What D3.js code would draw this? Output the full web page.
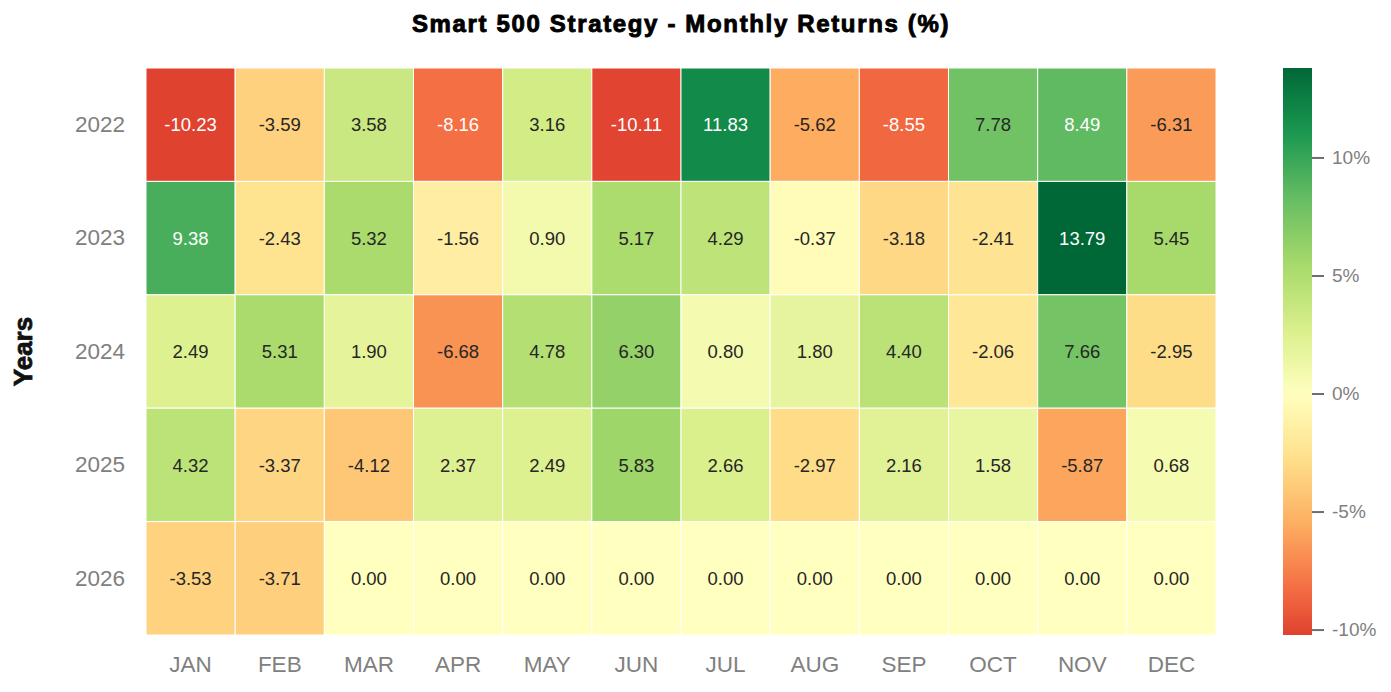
<!DOCTYPE html>
<html>
<head>
<meta charset="utf-8">
<script src="https://cdnjs.cloudflare.com/ajax/libs/d3/7.8.5/d3.min.js"></script>
<style>
  body { margin: 0; background: #fff; }
  text { font-family: "Liberation Sans", Arial, sans-serif; }
</style>
</head>
<body>
<script>
// chart data
var years = ["2022", "2023", "2024", "2025", "2026"];
var months = ["JAN", "FEB", "MAR", "APR", "MAY", "JUN", "JUL", "AUG", "SEP", "OCT", "NOV", "DEC"];
var returns2022 = [-10.23, -3.59, 3.58, -8.16, 3.16, -10.11, 11.83, -5.62, -8.55, 7.78, 8.49, -6.31];
var returns2023 = [9.38, -2.43, 5.32, -1.56, 0.90, 5.17, 4.29, -0.37, -3.18, -2.41, 13.79, 5.45];
var returns2024 = [2.49, 5.31, 1.90, -6.68, 4.78, 6.30, 0.80, 1.80, 4.40, -2.06, 7.66, -2.95];
var returns2025 = [4.32, -3.37, -4.12, 2.37, 2.49, 5.83, 2.66, -2.97, 2.16, 1.58, -5.87, 0.68];
var returns2026 = [-3.53, -3.71, 0.00, 0.00, 0.00, 0.00, 0.00, 0.00, 0.00, 0.00, 0.00, 0.00];
var colorTicks = [10, 5, 0, -5, -10];

var rows = [returns2022, returns2023, returns2024, returns2025, returns2026];
var cells = [];
rows.forEach(function(r, i) {
  r.forEach(function(v, j) { cells.push({year: years[i], month: months[j], value: v}); });
});

var width = 1391, height = 692;
var margin = {top: 68, left: 146, right: 175, bottom: 57};
var innerW = width - margin.left - margin.right,
    innerH = height - margin.top - margin.bottom;

var svg = d3.select("body").append("svg")
    .attr("width", width)
    .attr("height", height);

var x = d3.scaleBand().domain(months).range([margin.left, margin.left + innerW]);
var y = d3.scaleBand().domain(years).range([margin.top, margin.top + innerH]);

// seaborn-style centred colormap (RdYlGn, center 0)
var vmin = d3.min(cells, function(d) { return d.value; }),
    vmax = d3.max(cells, function(d) { return d.value; });
var vrange = Math.max(vmax, -vmin);
var scheme = d3.schemeRdYlGn[11];
var cmap = d3.scaleLinear()
    .domain(d3.range(11).map(function(i) { return i / 10; }))
    .range(scheme)
    .interpolate(d3.interpolateRgb);
var norm = d3.scaleLinear().domain([-vrange, vrange]).range([0, 1]).clamp(true);
function color(v) { return cmap(norm(v)); }

function textColor(c) {
  var rgb = d3.rgb(c);
  var lum = [rgb.r, rgb.g, rgb.b].map(function(u) {
    u = u / 255;
    return u <= 0.03928 ? u / 12.92 : Math.pow((u + 0.055) / 1.055, 2.4);
  });
  var l = 0.2126 * lum[0] + 0.7152 * lum[1] + 0.0722 * lum[2];
  return l > 0.408 ? "#262626" : "#ffffff";
}

// cells
svg.append("g").selectAll("rect")
  .data(cells)
  .enter().append("rect")
    .attr("x", function(d) { return x(d.month); })
    .attr("y", function(d) { return y(d.year); })
    .attr("width", x.bandwidth())
    .attr("height", y.bandwidth())
    .attr("fill", function(d) { return color(d.value); })
    .attr("stroke", "#ffffff")
    .attr("stroke-width", 1);

// annotations
svg.append("g").selectAll("text")
  .data(cells)
  .enter().append("text")
    .attr("x", function(d) { return x(d.month) + x.bandwidth() / 2; })
    .attr("y", function(d) { return y(d.year) + y.bandwidth() / 2; })
    .attr("dy", "0.36em")
    .attr("text-anchor", "middle")
    .style("font-size", "18.5px")
    .attr("fill", function(d) { return textColor(color(d.value)); })
    .text(function(d) { return d.value.toFixed(2); });

// axes
var xAxis = svg.append("g")
    .attr("transform", "translate(0," + (margin.top + innerH) + ")")
    .call(d3.axisBottom(x).tickSize(0).tickPadding(21));
var yAxis = svg.append("g")
    .attr("transform", "translate(" + margin.left + ",0)")
    .call(d3.axisLeft(y).tickSize(0).tickPadding(21));
[xAxis, yAxis].forEach(function(a) {
  a.select(".domain").remove();
  a.selectAll("text")
    .style("font-size", "22.5px")
    .style("font-family", "'Liberation Sans', Arial, sans-serif")
    .attr("fill", "#808080");
});

// y label
svg.append("text")
    .attr("transform", "translate(32," + (margin.top + innerH / 2) + ") rotate(-90)")
    .attr("text-anchor", "middle")
    .style("font-size", "26px")
    .style("font-weight", "bold")
    .attr("fill", "#111")
    .attr("stroke", "#111")
    .attr("stroke-width", 0.8)
    .text("Years");

// title
svg.append("text")
    .attr("x", margin.left + innerW / 2)
    .attr("y", 32)
    .attr("text-anchor", "middle")
    .style("font-size", "24px")
    .style("font-weight", "bold")
    .style("letter-spacing", "1.65px")
    .attr("fill", "#000")
    .attr("stroke", "#000")
    .attr("stroke-width", 0.9)
    .text("Smart 500 Strategy - Monthly Returns (%)");

// colorbar
var cbX = 1283, cbW = 29;
var cbScale = d3.scaleLinear().domain([vmin, vmax]).range([margin.top + innerH, margin.top]);
var defs = svg.append("defs");
var grad = defs.append("linearGradient")
    .attr("id", "cbgrad")
    .attr("x1", 0).attr("y1", 1).attr("x2", 0).attr("y2", 0);
d3.range(0, 1.0001, 0.02).forEach(function(t) {
  grad.append("stop")
    .attr("offset", t)
    .attr("stop-color", color(vmin + t * (vmax - vmin)));
});
svg.append("rect")
    .attr("x", cbX)
    .attr("y", margin.top)
    .attr("width", cbW)
    .attr("height", innerH)
    .attr("fill", "url(#cbgrad)");

var cbAxis = svg.append("g")
    .attr("transform", "translate(" + (cbX + cbW) + ",0)")
    .call(d3.axisRight(cbScale).tickValues(colorTicks).tickSize(12).tickPadding(8)
      .tickFormat(function(d) { return d + "%"; }));
cbAxis.select(".domain").remove();
cbAxis.selectAll("line").attr("stroke", "#6e6e6e").attr("stroke-width", 2);
cbAxis.selectAll("text")
    .style("font-size", "19px")
    .style("font-family", "'Liberation Sans', Arial, sans-serif")
    .attr("fill", "#808080");
</script>
</body>
</html>
